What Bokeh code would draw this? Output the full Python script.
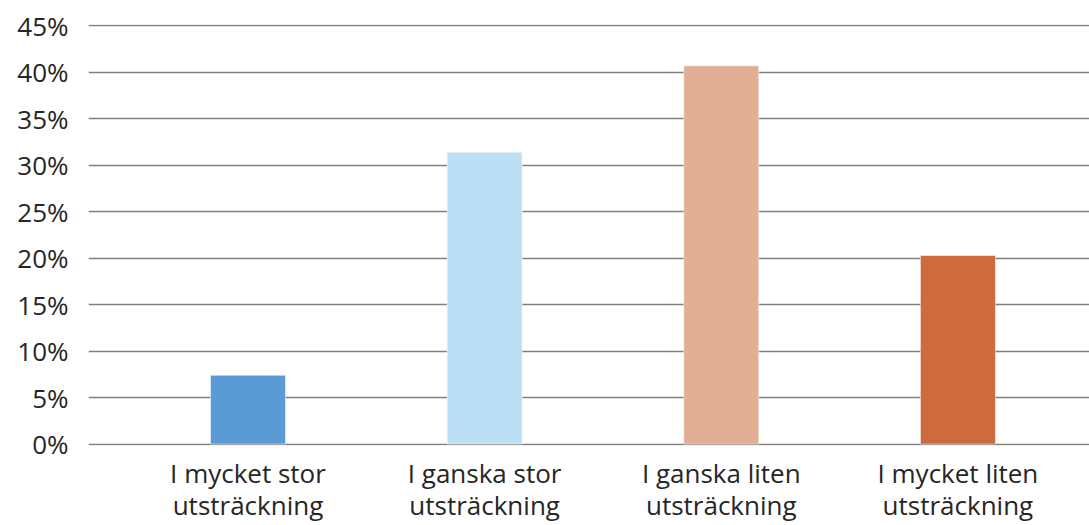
from bokeh.plotting import figure
from bokeh.models import Range1d, FixedTicker, ColumnDataSource
from bokeh.embed import file_html
from bokeh.resources import INLINE

categories = ["I mycket stor\nutsträckning", "I ganska stor\nutsträckning",
              "I ganska liten\nutsträckning", "I mycket liten\nutsträckning"]
values = [7.4, 31.4, 40.7, 20.3]
colors = ["#5B9BD5", "#BDDFF6", "#E2AE94", "#CF6A3D"]
y_ticks = [0, 5, 10, 15, 20, 25, 30, 35, 40, 45]
y_labels = ["0%", "5%", "10%", "15%", "20%", "25%", "30%", "35%", "40%", "45%"]

xs = list(range(len(categories)))
src = ColumnDataSource(dict(x=xs, top=values, color=colors))

p = figure(width=1089, height=525, output_backend="svg", toolbar_location=None,
           x_range=Range1d(-0.674, 3.556), y_range=Range1d(-0.15, 45.15),
           min_border_left=88, min_border_right=0, min_border_top=24, min_border_bottom=80)
p.outline_line_color = None
p.vbar(x="x", top="top", width=0.317, color="color", line_color="#FFFFFF",
       line_alpha=0.5, line_width=1, source=src)

font = "Open Sans"
p.yaxis.ticker = FixedTicker(ticks=y_ticks)
p.yaxis.major_label_overrides = {t: l for t, l in zip(y_ticks, y_labels)}
p.yaxis.axis_line_color = None
p.yaxis.major_tick_line_color = None
p.yaxis.minor_tick_line_color = None
p.yaxis.major_label_standoff = 14
p.yaxis.major_label_text_font = font
p.yaxis.major_label_text_font_size = "26px"
p.yaxis.major_label_text_color = "#262626"

p.xaxis.ticker = FixedTicker(ticks=xs)
p.xaxis.major_label_overrides = {i: c for i, c in enumerate(categories)}
p.xaxis.axis_line_color = None
p.xaxis.major_tick_line_color = None
p.xaxis.minor_tick_line_color = None
p.xaxis.major_label_standoff = 3
p.xaxis.major_label_text_font = font
p.xaxis.major_label_text_font_size = "26px"
p.xaxis.major_label_text_line_height = 0.9
p.xaxis.major_label_text_color = "#262626"

p.xgrid.grid_line_color = None
p.ygrid.ticker = FixedTicker(ticks=y_ticks)
p.ygrid.grid_line_color = "#7F7F7F"
p.ygrid.grid_line_width = 1.3
p.ygrid.level = "underlay"

open("out.html", "w").write(file_html(p, INLINE))
